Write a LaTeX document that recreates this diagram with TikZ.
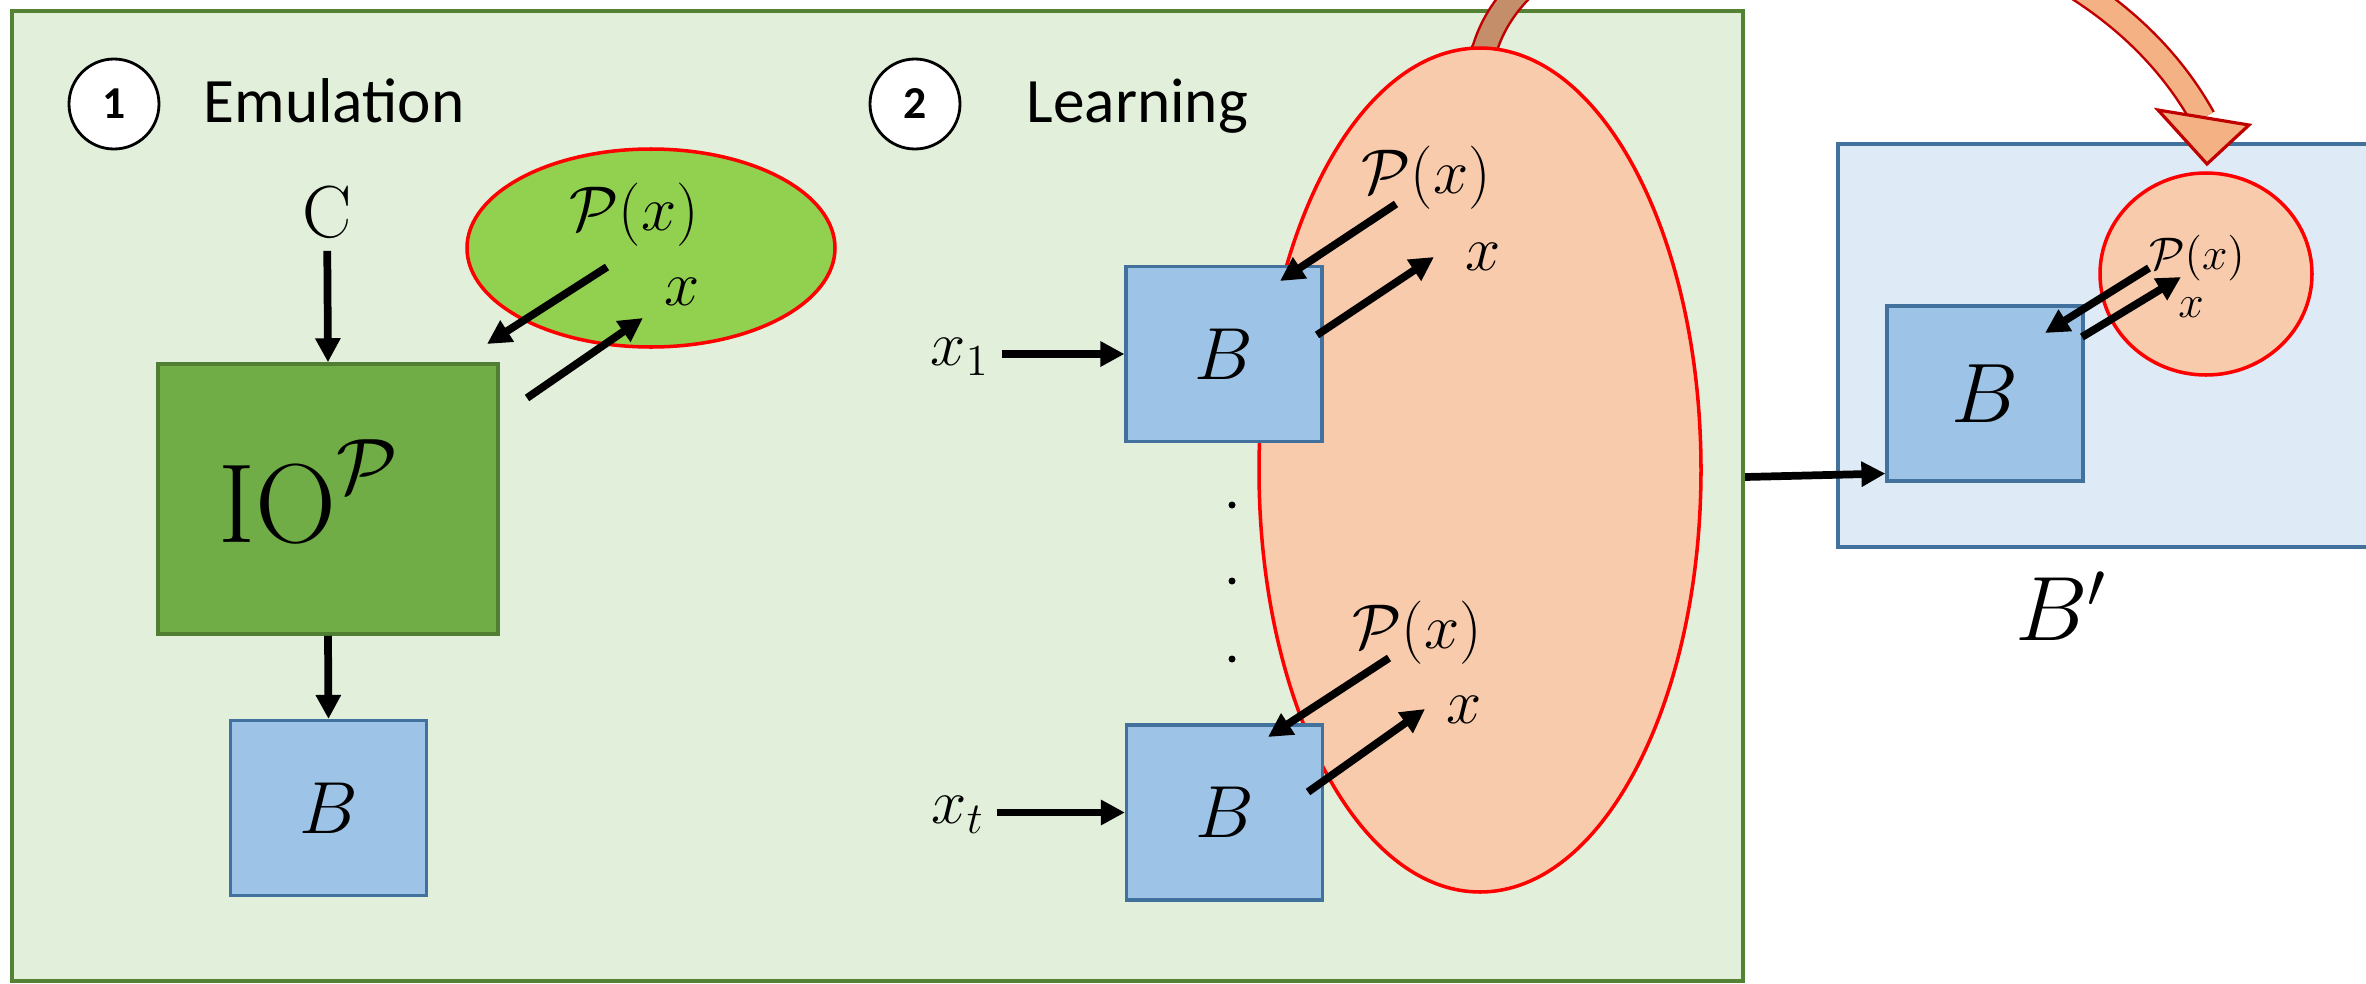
\RequirePackage{fix-cm}
\documentclass[tikz,border=0pt]{standalone}
\usepackage{fontspec}
\newfontfamily\calibri{Carlito}
\usetikzlibrary{positioning,calc,arrows.meta,shapes.geometric}

\definecolor{bggreen}{HTML}{E2EFDA}
\definecolor{bgline}{HTML}{548235}
\definecolor{iofill}{HTML}{70AD47}
\definecolor{ioline}{HTML}{507E32}
\definecolor{cloudgreen}{HTML}{92D050}
\definecolor{bfill}{HTML}{9DC3E6}
\definecolor{bline}{HTML}{41719C}
\definecolor{salmon}{HTML}{F8CBAD}
\definecolor{bgblue}{HTML}{DEEBF7}
\definecolor{arrfill}{HTML}{F4B183}
\definecolor{arrbrown}{HTML}{C48E6A}
\definecolor{arrline}{HTML}{C00000}

\newcommand\toparc{(14.74,9.10) -- (14.85,9.35)
  .. controls (15.45,11.3) and (20.5,11.4) .. (22.03,8.65)}

\begin{document}
\begin{tikzpicture}[
  panel/.style    = {draw=bgline, fill=bggreen, line width=1.2pt, inner sep=0pt},
  bluepanel/.style= {draw=bline, fill=bgblue, line width=1pt, inner sep=0pt},
  iobox/.style    = {draw=ioline, fill=iofill, line width=1pt, inner sep=0pt,
                     minimum width=3.40cm, minimum height=2.70cm},
  bbox/.style     = {draw=bline, fill=bfill, line width=0.9pt, inner sep=0pt,
                     minimum width=1.96cm, minimum height=1.75cm,
                     font=\fontsize{21}{21}\selectfont},
  cloud/.style    = {ellipse, draw=red, line width=1pt, inner sep=0pt},
  num/.style      = {circle, draw, fill=white, line width=0.8pt, inner sep=0pt,
                     minimum size=0.9cm, font=\calibri\bfseries\fontsize{13}{13}\selectfont},
  phase/.style    = {anchor=base west, inner sep=0pt,
                     font=\calibri\fontsize{18}{18}\selectfont},
  lbl/.style      = {inner sep=1pt, font=\fontsize{18}{18}\selectfont},
  lblsmall/.style = {inner sep=0pt, font=\fontsize{13}{13}\selectfont},
  flow/.style     = {-{Triangle[length=2.4mm,width=2.4mm]}, line width=2.2pt},
  band/.style     = {line width=2.7mm, draw=arrline},
]
\useasboundingbox (0,0) rectangle (23.66,9.83);
\clip (0,0) rectangle (23.66,9.83);

%% ==== the two panels ======================================================
\node[panel, minimum width=17.31cm, minimum height=9.70cm] (emupanel) at (8.775,4.87) {};
\node[bluepanel, minimum width=5.62cm, minimum height=4.03cm] (finpanel) at (21.19,6.375) {};

%% ==== curved hand-over arrow, left part brown, right part salmon ==========
\begin{scope}
  \clip (0,0) rectangle (17.5,9.83);
  \draw[band] \toparc;
  \draw[line width=2.2mm, draw=arrbrown] \toparc;
\end{scope}
\begin{scope}
  \clip (17.5,0) rectangle (23.66,9.83);
  \draw[band] \toparc;
  \draw[line width=2.2mm, draw=arrfill] \toparc;
\end{scope}

%% ==== regions of P ========================================================
\node[cloud, fill=cloudgreen, minimum width=3.68cm, minimum height=1.98cm] (gcloud) at (6.51,7.35) {};
\node[cloud, fill=salmon, minimum width=4.42cm, minimum height=8.44cm] (bigcloud) at (14.80,5.13) {};
\node[cloud, fill=salmon, minimum width=2.12cm, minimum height=2.02cm] (fincloud) at (22.06,7.09) {};
\filldraw[fill=arrfill, draw=arrline, line width=0.9pt]
  (21.58,8.73) -- (22.49,8.58) -- (22.07,8.19) -- cycle;

%% ==== step 1: emulation ===================================================
\node[num] (numemu) at (1.14,8.79) {1};
\node[phase] (emu) at (2.03,8.61) {Emulation};
\node[font=\fontsize{21}{21}\selectfont] (cin) at (3.27,7.71) {$\mathrm{C}$};
\node[iobox] (io) at (3.28,4.84) {};
\node[anchor=base west, inner sep=0pt, font=\fontsize{32}{32}\selectfont] (iolab)
  at (2.18,4.41) {$\mathrm{IO}^{\mathcal{P}}$};
\node[bbox] (bemu) at (3.285,1.75) {$B$};
\node[lbl] (pgreen) at (6.34,7.68) {$\mathcal{P}(x)$};
\node[lbl] (xgreen) at (6.82,6.91) {$x$};

%% ==== step 2: learning ====================================================
\node[num] (numlearn) at (9.15,8.79) {2};
\node[phase] (learn) at (10.26,8.61) {Learning};
\node[bbox] (blone) at (12.24,6.29) {$B$};
\node[bbox] (bltwo) at (12.245,1.705) {$B$};
\node[lbl, inner sep=0.333em] (xone) at (9.60,6.26) {$x_1$};
\node[lbl, inner sep=0.333em] (xt) at (9.58,1.68) {$x_t$};
\foreach \y in {4.78,4.02,3.24}
  \fill (12.32,\y) circle (0.035);
\node[lbl] (ptop) at (14.26,8.05) {$\mathcal{P}(x)$};
\node[lbl] (xtop) at (14.83,7.26) {$x$};
\node[lbl] (pbot) at (14.17,3.50) {$\mathcal{P}(x)$};
\node[lbl] (xbot) at (14.64,2.73) {$x$};

%% ==== result ==============================================================
\node[bbox, font=\fontsize{24}{24}\selectfont] (bfin) at (19.85,5.895) {$B$};
\node[lblsmall] (pfin) at (21.97,7.25) {$\mathcal{P}(x)$};
\node[lblsmall] (xfin) at (21.91,6.75) {$x$};
\node[font=\fontsize{26}{26}\selectfont] (bprime) at (20.61,3.77) {$B'$};

%% ==== main flow ===========================================================
\draw[flow] (cin) -- (io.north);
\draw[flow] (io.south) -- (bemu.north);
\draw[flow] (xone.east |- blone.west) -- (blone.west);
\draw[flow] (xt.east |- bltwo.west) -- (bltwo.west);
\draw[flow] ([yshift=1.9mm]emupanel.east) -- ([yshift=0.9mm]bfin.south west);

%% ==== queries to P and answers ============================================
\coordinate (gq1) at (6.07,7.16);  \coordinate (gq2) at (4.87,6.39);
\coordinate (ga1) at (5.27,5.85);  \coordinate (ga2) at (6.43,6.65);
\coordinate (tq1) at (13.96,7.79); \coordinate (tq2) at (12.80,7.02);
\coordinate (ta1) at (13.17,6.48); \coordinate (ta2) at (14.34,7.26);
\coordinate (bq1) at (13.89,3.25); \coordinate (bq2) at (12.68,2.46);
\coordinate (ba1) at (13.08,1.91); \coordinate (ba2) at (14.25,2.74);
\coordinate (fq1) at (21.49,7.15); \coordinate (fq2) at (20.45,6.50);
\coordinate (fa1) at (20.82,6.46); \coordinate (fa2) at (21.81,7.06);
\foreach \s in {g,t,b,f} {
  \draw[flow] (\s q1) -- (\s q2);
  \draw[flow] (\s a1) -- (\s a2);
}

\end{tikzpicture}
\end{document}
